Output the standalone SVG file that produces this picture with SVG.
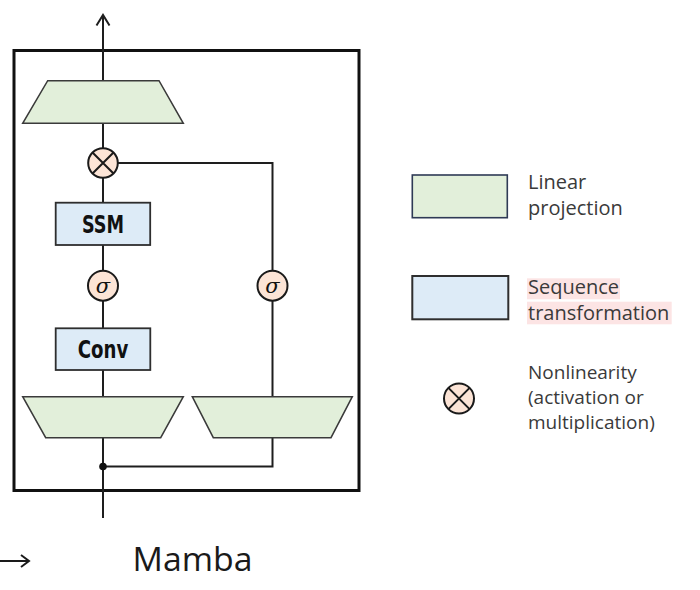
<svg xmlns="http://www.w3.org/2000/svg" width="700" height="590" viewBox="0 0 700 590">
  <style>
    .lin { fill: #e2efda; stroke: #3a3a3a; stroke-width: 1.5; }
    .seq { fill: #ddebf7; stroke: #2e2e2e; stroke-width: 1.8; }
    .op { fill: #fce4d6; stroke: #1a1a1a; stroke-width: 2; }
    .wire { fill: none; stroke: #1e1e1e; stroke-width: 2; }
    .blk { font-family: "DejaVu Sans Condensed", "DejaVu Sans", sans-serif; font-weight: bold; font-stretch: condensed; font-size: 24px; fill: #111; text-anchor: middle; }
    .sig { font-family: "DejaVu Serif", serif; font-style: italic; font-size: 21px; fill: #111; text-anchor: middle; }
    .leg { font-family: "Open Sans", "Noto Sans", sans-serif; font-size: 20px; fill: #3a3a3a; }
    .leg2 { font-family: "Open Sans", "Noto Sans", sans-serif; font-size: 19px; fill: #3a3a3a; }
  </style>

  <g id="outer-box">
    <rect x="14" y="50.5" width="345" height="440" fill="none" stroke="#111" stroke-width="3"/>
  </g>

  <g id="connectors">
    <path class="wire" d="M103,15 V518"/>
    <path class="wire" d="M96.5,25.5 L103,15 L109.5,25.5"/>
    <path class="wire" d="M118,163 H272.5 V397"/>
    <path class="wire" d="M272.5,437.5 V466.5 H103"/>
    <circle cx="103" cy="466.5" r="3.8" fill="#111"/>
  </g>

  <g id="out-proj">
    <polygon class="lin" points="47.7,80.7 159,80.7 183.3,123.3 22.7,123.3"/>
  </g>

  <g id="mult">
    <circle class="op" cx="103" cy="163" r="14.8"/>
    <path d="M92.5,152.5 L113.5,173.5 M113.5,152.5 L92.5,173.5" stroke="#1a1a1a" stroke-width="2"/>
  </g>

  <g id="ssm">
    <rect class="seq" x="55.7" y="202.7" width="94.5" height="42.3"/>
    <text class="blk" x="103" y="233.3" textLength="42" lengthAdjust="spacingAndGlyphs">SSM</text>
  </g>

  <g id="sigma-left">
    <circle class="op" cx="103" cy="285.7" r="15"/>
    <text class="sig" x="103" y="292.5">σ</text>
  </g>

  <g id="sigma-right">
    <circle class="op" cx="272.5" cy="285.7" r="15"/>
    <text class="sig" x="272.5" y="292.5">σ</text>
  </g>

  <g id="conv">
    <rect class="seq" x="55.7" y="328.3" width="94.6" height="41.7"/>
    <text class="blk" x="103" y="358.3" textLength="50.5" lengthAdjust="spacingAndGlyphs">Conv</text>
  </g>

  <g id="in-proj-left">
    <polygon class="lin" points="22.7,396.7 183.3,396.7 160.7,437.7 45.7,437.7"/>
  </g>

  <g id="in-proj-right">
    <polygon class="lin" points="192.3,396.7 352.3,396.7 331,437.7 213.3,437.7"/>
  </g>

  <g id="caption">
    <path d="M0,561 H29 M21,555 L29,561 L21,567" fill="none" stroke="#1a1a1a" stroke-width="2"/>
    <text x="132.5" y="571" font-family="Open Sans, Noto Sans, sans-serif" font-size="33" fill="#1a1a1a" textLength="120" lengthAdjust="spacingAndGlyphs">Mamba</text>
  </g>

  <g id="legend-linear">
    <rect x="412.3" y="175" width="95" height="42.7" fill="#e2efda" stroke="#2f3a55" stroke-width="1.6"/>
    <text class="leg" x="528" y="189.3">Linear</text>
    <text class="leg" x="528" y="215">projection</text>
  </g>

  <g id="legend-sequence">
    <rect x="412.3" y="276" width="96" height="43.3" fill="#ddebf7" stroke="#2e2e2e" stroke-width="2"/>
    <rect x="527" y="278.3" width="93" height="21" fill="#fce4e4"/>
    <rect x="527" y="301.7" width="144.7" height="22.6" fill="#fce4e4"/>
    <text class="leg" x="528" y="294.3">Sequence</text>
    <text class="leg" x="528" y="320">transformation</text>
  </g>

  <g id="legend-nonlinearity">
    <circle class="op" cx="459" cy="398.5" r="15"/>
    <path d="M448.4,387.9 L469.6,409.1 M469.6,387.9 L448.4,409.1" stroke="#1a1a1a" stroke-width="2"/>
    <text class="leg2" x="528" y="378.5">Nonlinearity</text>
    <text class="leg2" x="528" y="403.5">(activation or</text>
    <text class="leg2" x="528" y="428.5">multiplication)</text>
  </g>
</svg>
